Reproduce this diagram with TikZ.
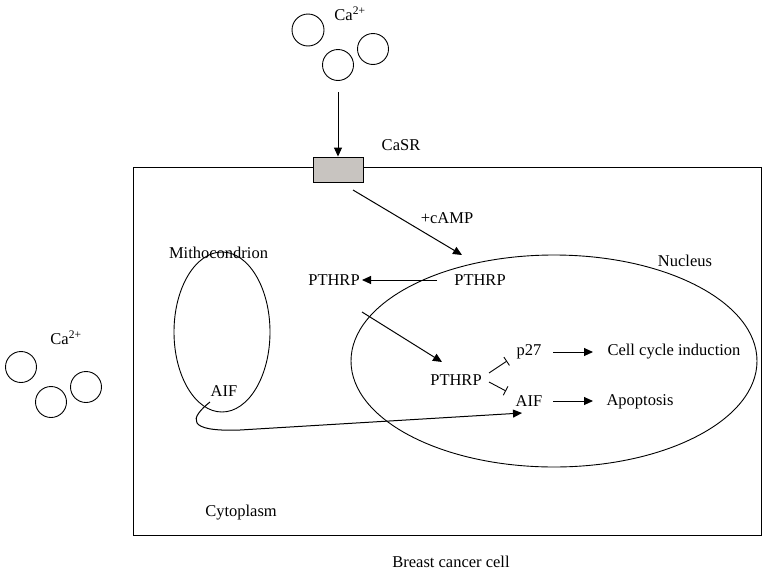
\documentclass[tikz,border=0pt]{standalone}
\usepackage{fontspec}
\setmainfont{Liberation Serif}
\usetikzlibrary{arrows.meta,shapes.geometric}
\begin{document}
\begin{tikzpicture}[x=1pt,y=-1pt,
  lbl/.style={font=\fontsize{16.5}{19}\selectfont, inner sep=1pt},
  ion/.style={draw, line width=0.9pt},
  arr/.style={-{Triangle[length=9pt,width=8pt]}, line width=1pt},
  inh/.style={-{Bar[width=10pt]}, line width=0.9pt}]
\useasboundingbox (0,0) rectangle (768,573);
% top calcium
\draw[ion] (308,30) circle (16);
\draw[ion] (373,49) circle (15.5);
\draw[ion] (338,65) circle (15.5);
\node[lbl] (ca1) at (350,14) {Ca\textsuperscript{2+}};
% cell
\draw[line width=0.9pt] (133,167) rectangle (761,535);
\node[draw, fill={rgb,255:red,200;green,196;blue,192}, line width=0.9pt, minimum width=50pt, minimum height=25pt, inner sep=0] (casr) at (338,169.5) {};
\node[lbl] (casrl) at (401,145) {CaSR};
\coordinate (castart) at (338,92);
\draw[arr] (castart) -- (casr.north);
% nucleus & mito
\node[draw, ellipse, minimum width=406pt, minimum height=212pt, line width=0.9pt] (nuc) at (554,361) {};
\node[draw, ellipse, minimum width=96pt, minimum height=160pt, line width=0.9pt] (mito) at (222,332) {};
\node[lbl] (nucl) at (685,261) {Nucleus};
\node[lbl] (mitol) at (218.5,253) {Mithocondrion};
% cAMP path
\coordinate (c1) at (353,190);
\coordinate (c2) at (462,255);
\draw[arr] (c1) -- (c2);
\node[lbl] (camp) at (447,218) {+cAMP};
\node[lbl] (p1) at (480,280) {PTHRP};
\node[lbl] (p2) at (334,280) {PTHRP};
\coordinate (q1) at (437,280);
\coordinate (q2) at (362,280);
\draw[arr] (q1) -- (q2);
\node[lbl] (p3) at (456,380) {PTHRP};
\coordinate (pa) at (362,312);
\coordinate (pb) at (442,362);
\draw[arr] (pa) -- (pb);
\node[lbl] (p27) at (529,352) {p27};
\node[lbl] (aif) at (529,401) {AIF};
\coordinate (i1) at (489,373);
\coordinate (i2) at (507,361);
\coordinate (i3) at (489,382);
\coordinate (i4) at (506,391);
\draw[inh] (i1) -- (i2);
\draw[inh] (i3) -- (i4);
\node[lbl] (cci) at (674,352) {Cell cycle induction};
\node[lbl] (apo) at (640,402) {Apoptosis};
\coordinate (a1) at (553,352);
\coordinate (a2) at (593,352);
\coordinate (a3) at (553,401);
\coordinate (a4) at (593,401);
\draw[arr] (a1) -- (a2);
\draw[arr] (a3) -- (a4);
% mito AIF
\node[lbl] (aifm) at (224,391) {AIF};
\coordinate (m1) at (210,402);
\coordinate (m2) at (240,430);
\coordinate (m3) at (522,413);
\draw[arr] (m1) .. controls (190,418) and (185,432) .. (m2) -- (m3);
% labels
\node[lbl] (cyto) at (241,513) {Cytoplasm};
\node[lbl] (bcc) at (451,562) {Breast cancer cell};
% left calcium
\node[lbl] (ca2) at (66,338) {Ca\textsuperscript{2+}};
\draw[ion] (21,367) circle (15.5);
\draw[ion] (51,402) circle (15.5);
\draw[ion] (86,387) circle (15.5);
\end{tikzpicture}
\end{document}
